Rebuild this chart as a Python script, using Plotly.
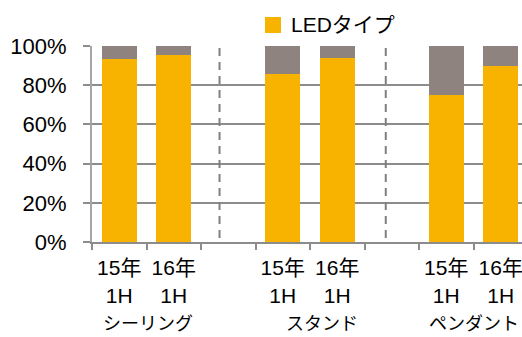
import plotly.graph_objects as go

categories = ["c15", "c16", "gap1", "s15", "s16", "gap2", "p15", "p16"]
tick_labels = ["15年<br>1H", "16年<br>1H", "", "15年<br>1H", "16年<br>1H", "", "15年<br>1H", "16年<br>1H"]
led_share = [93.5, 95.6, None, 85.5, 93.7, None, 75.0, 89.6]
other_share = [None if v is None else 100 - v for v in led_share]
group_names = ["シーリング", "スタンド", "ペンダント"]
group_pos = [0.53, 3.72, 6.5]
divider_pos = [1.84, 4.89]
legend_name = "LEDタイプ"

ORANGE = "#F8B300"
GRAY = "#8E837E"
GRID = "#8C8C8C"
FONT = "Liberation Sans, Arial, Noto Sans CJK JP, sans-serif"

W, H = 522, 337
ML, MR, MT, MB = 92, 0, 46, 95
pw, ph = W - ML - MR, H - MT - MB

def px_x(x):
    return (x - ML) / pw

def px_y(y):
    return (H - MB - y) / ph

fig = go.Figure()
fig.add_trace(go.Bar(x=categories, y=led_share, marker_color=ORANGE, name=legend_name,
                     showlegend=False, marker_line_width=0))
fig.add_trace(go.Bar(x=categories, y=other_share, marker_color=GRAY, name="その他",
                     showlegend=False, marker_line_width=0))

shapes = []
for d in divider_pos:
    shapes.append(dict(type="line", xref="x", yref="y", x0=d, x1=d, y0=2, y1=100,
                       line=dict(color="#7F7F7F", width=2, dash="8px,6px"), layer="above"))
# legend swatch
shapes.append(dict(type="rect", xref="paper", yref="paper",
                   x0=px_x(265), x1=px_x(281), y0=px_y(33), y1=px_y(17),
                   fillcolor=ORANGE, line=dict(width=0)))

annotations = [dict(x=px_x(289), y=px_y(25), xref="paper", yref="paper", text=legend_name,
                    showarrow=False, xanchor="left", yanchor="middle",
                    font=dict(size=21, color="#000", family=FONT))]
for i, (name, pos) in enumerate(zip(group_names, group_pos)):
    last = i == len(group_names) - 1
    annotations.append(dict(x=(px_x(521) if last else pos), xref=("paper" if last else "x"),
                            y=px_y(323.5), yref="paper", text=name,
                            showarrow=False, xanchor=("right" if last else "center"),
                            yanchor="middle",
                            font=dict(size=18, color="#000", family=FONT)))

fig.update_layout(
    width=W, height=H,
    margin=dict(l=ML, r=MR, t=MT, b=MB, pad=0),
    barmode="stack", bargap=0.35,
    plot_bgcolor="white", paper_bgcolor="white",
    showlegend=False,
    shapes=shapes, annotations=annotations,
    font=dict(family=FONT, size=21, color="#000"),
    xaxis=dict(type="category", categoryorder="array", categoryarray=categories,
               tickmode="array", tickvals=categories, ticktext=tick_labels,
               tickson="boundaries", ticks="outside", ticklen=6, tickwidth=1.5, tickcolor=GRID,
               range=[-0.5, -0.5 + pw / 54.5],
               showline=True, linecolor=GRID, linewidth=2, showgrid=False,
               ticklabelstandoff=6,
               tickfont=dict(size=21, family=FONT, color="#000"), tickangle=0),
    yaxis=dict(range=[0, 100], tickvals=[0, 20, 40, 60, 80, 100],
               ticktext=["0%", "20%", "40%", "60%", "80%", "100%"],
               ticks="outside", ticklen=7, tickwidth=1.5, tickcolor=GRID,
               showline=True, linecolor="#A6A6A6", linewidth=2,
               showgrid=True, gridcolor=GRID, gridwidth=2, zeroline=False,
               ticklabelstandoff=12,
               tickfont=dict(size=22, family=FONT, color="#000")),
)

fig.write_html("out.html")
